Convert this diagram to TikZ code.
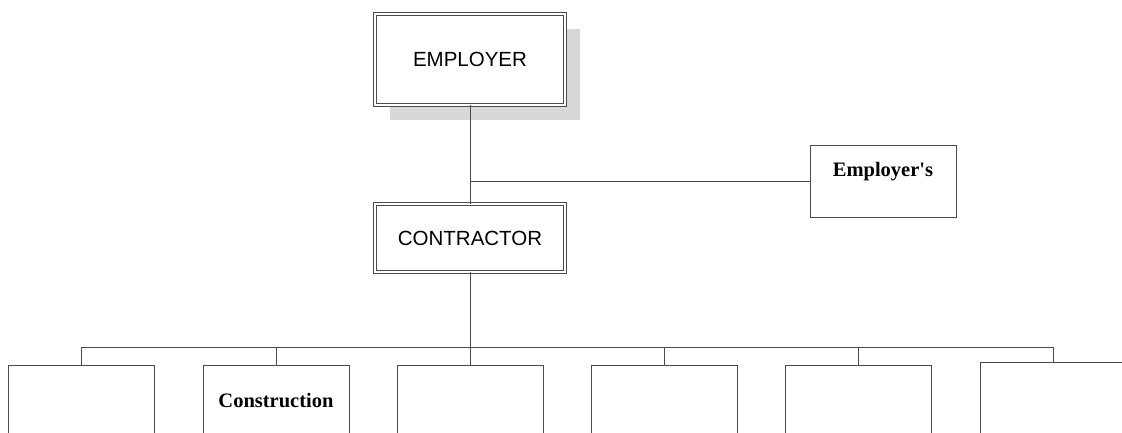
\documentclass[tikz,border=0pt]{standalone}
\usepackage{fontspec}
\setmainfont{Liberation Serif}
\setsansfont{Liberation Sans}
\usetikzlibrary{shadows}
\definecolor{linec}{RGB}{75,75,75}
\definecolor{shadc}{RGB}{216,216,216}
\tikzset{
  dblbox/.style={draw=linec, double=white, double distance=1.8pt, line width=0.9pt, fill=white,
    font=\sffamily\fontsize{20.5}{24}\selectfont, inner sep=0pt, minimum width=190pt},
  plainbox/.style={draw=linec, line width=1pt, fill=white, inner sep=0pt,
    minimum width=146pt},
  lowbox/.style={plainbox, minimum height=120pt, anchor=north},
  boldlbl/.style={font=\bfseries\fontsize{20.5}{24}\selectfont, anchor=base, inner sep=0pt},
  conn/.style={draw=linec, line width=1pt}
}
\begin{document}
\begin{tikzpicture}[x=1pt,y=-1pt]
\useasboundingbox (0,0) rectangle (1122,432);
\clip (0,0) rectangle (1122,432);
% top
\node[dblbox, minimum height=91pt,
  drop shadow={shadow xshift=15pt, shadow yshift=-15pt, fill=shadc, opacity=1}]
  (emp) at (470,59.5) {EMPLOYER};
\node[dblbox, minimum height=68pt] (con) at (470,238) {CONTRACTOR};
\node[plainbox, minimum height=72pt] (emps) at (883,181) {};
\node[boldlbl] (empslbl) at ([yshift=-32pt]emps.north) {Employer\textquotesingle s};
% bottom boxes
\node[lowbox] (b1) at (81,365) {};
\node[lowbox] (b2) at (276,365) {};
\node[lowbox] (b3) at (470,365) {};
\node[lowbox] (b4) at (664.5,365) {};
\node[lowbox] (b5) at (858.5,365) {};
\node[lowbox] (b6) at (1053,362) {};
\node[boldlbl] (b2lbl) at ([yshift=-42pt]b2.north) {Construction};
% connectors
\coordinate (bus) at (470,347);
\draw[conn] (emp.south) -- (con.north);
\draw[conn] (emps.west) -- (emps.west -| emp.south);
\draw[conn] (con.south) -- (b3.north);
\draw[conn] (b1.north) -- (b1.north |- bus) -- (b6.north |- bus) -- (b6.north);
\draw[conn] (b2.north) -- (b2.north |- bus);
\draw[conn] (b4.north) -- (b4.north |- bus);
\draw[conn] (b5.north) -- (b5.north |- bus);
\end{tikzpicture}
\end{document}
